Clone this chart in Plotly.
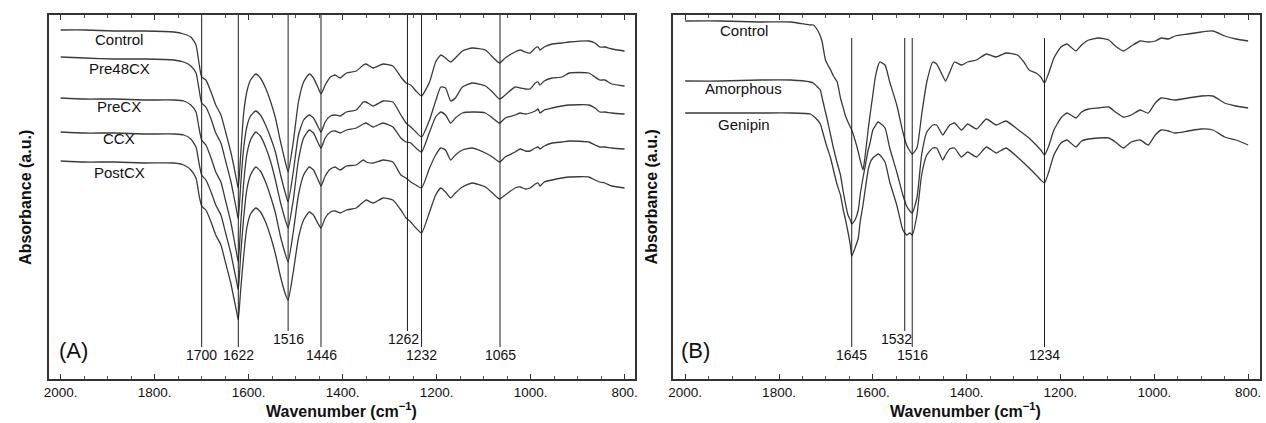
import plotly.graph_objects as go

# ---------------- Panel A data (wavenumber cm-1, absorbance a.u.) ----------------
wn_a = [2000, 1949, 1886, 1822, 1759, 1738, 1723, 1712, 1706, 1700, 1691, 1680, 1670, 1659, 1649,
        1638, 1632, 1625, 1622, 1617, 1611, 1604, 1596, 1585, 1575, 1564, 1553, 1543, 1532, 1522,
        1516, 1505, 1494, 1483, 1471, 1462, 1452, 1446, 1437, 1426, 1416, 1405, 1392, 1371, 1356,
        1350, 1335, 1314, 1293, 1276, 1265, 1255, 1244, 1232, 1215, 1202, 1191, 1181, 1170, 1160,
        1145, 1124, 1096, 1081, 1066, 1054, 1033, 1022, 1011, 1001, 990, 984, 980, 971, 954,
        933, 918, 876, 863, 853, 842, 827, 800]

a_control = [349, 349, 348, 348, 347, 345, 342, 334, 317, 302, 299, 287, 274, 264, 247,
             227, 214, 197, 191, 224, 264, 287, 299, 305, 301, 291, 277, 261, 237, 217,
             207, 237, 277, 297, 305, 301, 291, 285, 294, 302, 304, 301, 306, 308, 314,
             315, 311, 315, 313, 302, 296, 294, 288, 283, 297, 317, 324, 321, 317, 321,
             328, 331, 329, 322, 316, 321, 327, 329, 327, 326, 331, 332, 329, 332, 335,
             336, 337, 338, 336, 332, 332, 330, 328]
a_pre48cx = [322, 321, 320, 320, 319, 317, 313, 306, 291, 276, 272, 260, 246, 236, 218,
             198, 184, 167, 160, 194, 229, 252, 263, 268, 264, 254, 241, 227, 204, 186,
             177, 207, 244, 259, 264, 261, 252, 247, 257, 263, 264, 263, 267, 269, 277,
             277, 273, 278, 277, 264, 256, 252, 247, 242, 259, 278, 292, 291, 278, 281,
             292, 296, 293, 287, 280, 284, 292, 291, 290, 290, 296, 297, 294, 298, 301,
             302, 306, 306, 302, 299, 299, 295, 293]
a_precx = [281, 280, 280, 279, 279, 278, 274, 267, 252, 239, 234, 221, 207, 197, 178,
           157, 142, 124, 117, 154, 194, 224, 239, 247, 243, 232, 217, 199, 176, 159,
           151, 179, 219, 241, 249, 246, 236, 231, 241, 247, 248, 246, 249, 251, 255,
           256, 252, 256, 252, 241, 237, 236, 231, 227, 247, 262, 267, 264, 256, 261,
           266, 267, 266, 261, 256, 261, 264, 266, 265, 266, 268, 270, 266, 269, 271,
           273, 274, 274, 271, 267, 267, 266, 265]
a_ccx = [247, 246, 246, 245, 245, 244, 240, 232, 217, 204, 199, 187, 174, 164, 146,
         126, 112, 96, 89, 124, 159, 189, 204, 212, 208, 197, 182, 166, 142, 125,
         117, 147, 184, 204, 212, 209, 199, 193, 203, 210, 212, 209, 213, 214, 219,
         217, 216, 219, 217, 204, 201, 197, 194, 191, 211, 224, 231, 229, 219, 224,
         229, 231, 226, 222, 217, 222, 227, 230, 228, 228, 231, 232, 230, 233, 236,
         237, 238, 237, 234, 232, 232, 231, 230]
a_postcx = [218, 217, 217, 216, 216, 214, 209, 201, 185, 173, 169, 157, 144, 134, 116,
            96, 82, 66, 59, 89, 121, 151, 165, 171, 167, 157, 142, 125, 102, 85,
            79, 107, 141, 159, 167, 164, 155, 151, 161, 167, 168, 166, 169, 171, 177,
            179, 176, 181, 179, 169, 161, 157, 151, 146, 167, 184, 191, 187, 181, 186,
            192, 196, 192, 186, 180, 184, 191, 192, 190, 191, 195, 196, 193, 197, 199,
            201, 202, 202, 199, 197, 196, 193, 191]
series_a_names = ["Control", "Pre48CX", "PreCX", "CCX", "PostCX"]
series_a = [a_control, a_pre48cx, a_precx, a_ccx, a_postcx]
label_a_y = [340, 311, 273, 241, 207]

peaks_a = [1700, 1622, 1516, 1446, 1262, 1232, 1065]
peaks_a_upper = [False, False, True, False, True, False, False]
peaks_a_label_x = [1700, 1622, 1516, 1446, 1270, 1232, 1065]

# ---------------- Panel B data ----------------
wn_b = [2000, 1924, 1839, 1775, 1733, 1727, 1718, 1712, 1708, 1701, 1697, 1690, 1684, 1676, 1669,
        1663, 1659, 1653, 1648, 1645, 1638, 1631, 1627, 1621, 1617, 1610, 1606, 1600, 1595, 1589,
        1585, 1574, 1564, 1549, 1536, 1528, 1521, 1516, 1506, 1496, 1485, 1472, 1464, 1451, 1445,
        1436, 1426, 1411, 1398, 1379, 1358, 1337, 1316, 1292, 1278, 1267, 1252, 1242, 1234, 1225,
        1214, 1199, 1186, 1178, 1167, 1155, 1140, 1119, 1097, 1083, 1066, 1049, 1030, 1013, 998,
        985, 970, 956, 928, 900, 875, 850, 826, 800]
b_control = [358, 358, 357, 357, 354, 354, 349, 343, 337, 319, 315, 309, 303, 297, 281,
             271, 264, 257, 252, 249, 239, 227, 219, 209, 221, 249, 264, 284, 301, 313,
             317, 314, 297, 274, 247, 234, 228, 225, 231, 264, 297, 317, 315, 303, 298,
             307, 317, 314, 317, 319, 325, 322, 326, 324, 317, 309, 306, 302, 296, 306,
             321, 332, 335, 332, 328, 334, 339, 341, 339, 333, 328, 333, 338, 337, 338,
             341, 340, 343, 345, 347, 348, 343, 340, 338]
b_amorphous = [298, 298, 299, 299, 297, 296, 292, 289, 281, 267, 259, 244, 231, 216, 204,
               187, 177, 164, 159, 155, 159, 169, 184, 201, 211, 229, 236, 249, 253, 257,
               256, 251, 231, 207, 184, 173, 168, 166, 181, 224, 247, 254, 254, 244, 248,
               254, 256, 249, 255, 250, 260, 254, 258, 250, 245, 241, 234, 229, 224, 233,
               249, 261, 266, 264, 261, 267, 270, 271, 272, 267, 262, 264, 269, 266, 276,
               281, 280, 279, 281, 283, 283, 276, 273, 271]
b_genipin = [266, 266, 266, 266, 265, 263, 259, 255, 249, 237, 231, 221, 209, 194, 184,
             169, 161, 147, 134, 123, 131, 141, 157, 174, 187, 209, 216, 221, 223, 225,
             224, 217, 197, 174, 149, 144, 146, 144, 164, 204, 224, 231, 231, 219, 224,
             230, 231, 222, 227, 222, 232, 226, 231, 222, 216, 211, 204, 199, 196, 207,
             224, 236, 239, 236, 232, 238, 240, 241, 241, 237, 231, 237, 239, 234, 244,
             249, 248, 246, 248, 250, 249, 242, 239, 234]
series_b_names = ["Control", "Amorphous", "Genipin"]
series_b = [b_control, b_amorphous, b_genipin]
label_b_y = [349, 291, 255]

peaks_b = [1645, 1532, 1516, 1234]
peaks_b_upper = [False, True, False, False]
peaks_b_label_x = [1645, 1549, 1516, 1234]

tick_vals = [2000, 1800, 1600, 1400, 1200, 1000, 800]
tick_text = ["2000.", "1800.", "1600.", "1400.", "1200.", "1000.", "800."]

# ---------------- Figure ----------------
FONT = "Liberation Sans, Arial, sans-serif"
CURVE = "#3a3a3a"
LINE = "#1e1e1e"
fig = go.Figure()

for name, vals in zip(series_a_names, series_a):
    fig.add_trace(go.Scatter(x=wn_a, y=vals, mode="lines", name=name, showlegend=False,
                             line=dict(color=CURVE, width=1.3, shape="spline", smoothing=0.5),
                             xaxis="x", yaxis="y"))
for name, vals in zip(series_b_names, series_b):
    fig.add_trace(go.Scatter(x=wn_b, y=vals, mode="lines", name=name, showlegend=False,
                             line=dict(color=CURVE, width=1.3, shape="spline", smoothing=0.5),
                             xaxis="x2", yaxis="y2"))

annotations = []

def add_peaks(peaks, uppers, label_xs, top, xa, ya):
    for p, up, lx in zip(peaks, uppers, label_xs):
        bottom = 48 if up else 32
        fig.add_trace(go.Scatter(x=[p, p], y=[top, bottom], mode="lines", showlegend=False,
                                 hoverinfo="skip", line=dict(color=LINE, width=1),
                                 xaxis=xa, yaxis=ya))
        annotations.append(dict(x=lx, y=40 if up else 24, xref=xa, yref=ya, text=str(p),
                                xanchor="center", yanchor="middle",
                                showarrow=False, font=dict(size=14, color="#111", family=FONT)))

add_peaks(peaks_a, peaks_a_upper, peaks_a_label_x, 364, "x", "y")
add_peaks(peaks_b, peaks_b_upper, peaks_b_label_x, 341, "x2", "y2")

for name, ly in zip(series_a_names, label_a_y):
    annotations.append(dict(x=1875, y=ly, xref="x", yref="y", text=name, showarrow=False,
                            xanchor="center", yanchor="middle",
                            font=dict(size=15, color="#111", family=FONT)))
for name, ly in zip(series_b_names, label_b_y):
    annotations.append(dict(x=1875, y=ly, xref="x2", yref="y2", text=name, showarrow=False,
                            xanchor="center", yanchor="middle",
                            font=dict(size=15, color="#111", family=FONT)))

annotations.append(dict(x=1972, y=29, xref="x", yref="y", text="(A)", showarrow=False,
                        xanchor="center", yanchor="middle",
                        font=dict(size=22, color="#111", family=FONT)))
annotations.append(dict(x=1977, y=29, xref="x2", yref="y2", text="(B)", showarrow=False,
                        xanchor="center", yanchor="middle",
                        font=dict(size=22, color="#111", family=FONT)))

for xc in [338 / 1266, 966 / 1266]:
    annotations.append(dict(x=xc, y=(423 - 410) / 423, xref="paper", yref="paper",
                            xanchor="center", yanchor="middle",
                            text="<b>Wavenumber (cm<sup>−1</sup>)</b>", showarrow=False,
                            font=dict(size=16, color="#111", family=FONT)))
for xc in [20 / 1266, 650 / 1266]:
    annotations.append(dict(x=xc, y=(423 - 197) / 423, xref="paper", yref="paper",
                            xanchor="center", yanchor="middle",
                            text="<b>Absorbance (a.u.)</b>", textangle=-90, showarrow=False,
                            font=dict(size=16, color="#111", family=FONT)))

ydom = [(423 - 379) / 423, (423 - 15) / 423]

def xaxis_cfg(domain, rng):
    return dict(domain=domain, range=rng, showline=True, linecolor="#333",
                linewidth=1.5, mirror="allticks", ticks="inside", ticklen=5, tickwidth=1,
                tickcolor="#333", tickvals=tick_vals, ticktext=tick_text, showgrid=False,
                zeroline=False, tickfont=dict(size=13.5, color="#111", family=FONT),
                minor=dict(tickmode="linear", tick0=800, dtick=50, ticks="inside", ticklen=3,
                           tickcolor="#555", showgrid=False))

def yaxis_cfg():
    return dict(domain=ydom, range=[0, 364], showline=True, linecolor="#333", linewidth=1.5,
                mirror=True, ticks="", showticklabels=False, showgrid=False, zeroline=False)

xa1 = xaxis_cfg([44 / 1266, 634 / 1266], [2025.4, 776.7]); xa1["anchor"] = "y"
xa2 = xaxis_cfg([672 / 1266, 1262 / 1266], [2025.4, 774.6]); xa2["anchor"] = "y2"
ya1 = yaxis_cfg(); ya1["anchor"] = "x"
ya2 = yaxis_cfg(); ya2["anchor"] = "x2"

fig.update_layout(width=1266, height=423, margin=dict(l=0, r=0, t=0, b=0),
                  paper_bgcolor="white", plot_bgcolor="white",
                  xaxis=xa1, yaxis=ya1, xaxis2=xa2, yaxis2=ya2,
                  annotations=annotations, font=dict(family=FONT))

fig.write_html("out.html", config={"displayModeBar": False},
               post_script="document.body.style.margin='0';document.body.style.padding='0';"
                           "document.body.style.overflow='hidden';")
